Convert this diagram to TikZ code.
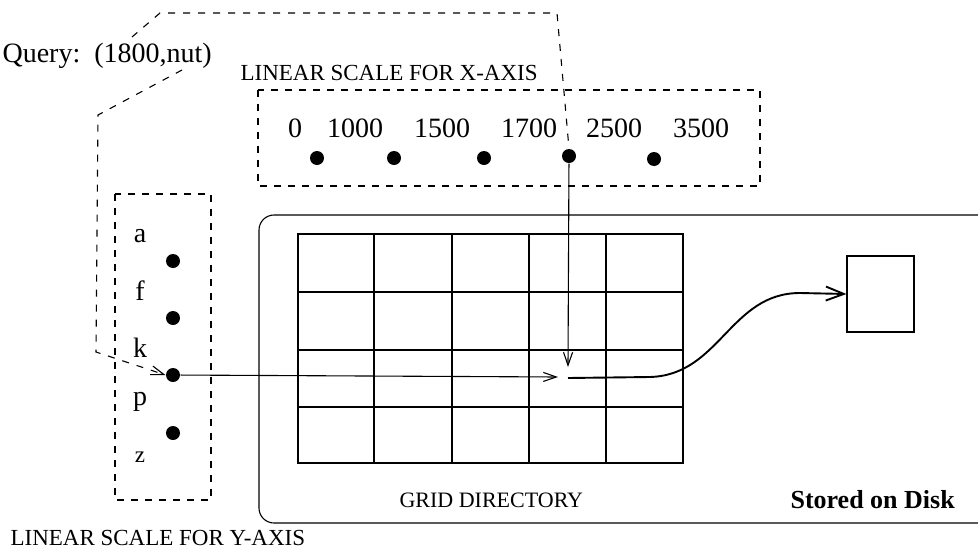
\documentclass[tikz,border=0pt]{standalone}
\usepackage{fontspec}
\setmainfont{Liberation Serif}
\usetikzlibrary{arrows.meta}
\begin{document}
\begin{tikzpicture}[x=1pt,y=-1pt, line width=1.1pt,
  dot/.style={circle,fill,inner sep=0pt,minimum size=14pt},
  lbl/.style={inner sep=0pt,font=\fontsize{28}{30}\selectfont},
  captext/.style={inner sep=0pt,font=\fontsize{23}{26}\selectfont},
  dbox/.style={draw,dash pattern=on 7pt off 7pt},
  dline/.style={dash pattern=on 7pt off 8pt},
  barb/.style={-{Straight Barb[length=13pt,width=9pt]}},
]
\useasboundingbox (0,0) rectangle (978,552);

% texts
\node[lbl,anchor=base west] (query) at (2,62) {Query:\ \ (1800,nut)};
\node[captext,anchor=base west] (xlab) at (240,80) {LINEAR SCALE FOR X-AXIS};
\node[captext,anchor=base west] (ylab) at (10,545) {LINEAR SCALE FOR Y-AXIS};
\node[inner sep=0pt,font=\fontsize{22}{26}\selectfont,anchor=base west] (gridlab) at (399,507) {GRID DIRECTORY};
\node[inner sep=0pt,font=\fontsize{26}{30}\selectfont\bfseries,anchor=base west] (disklab) at (790,508) {Stored on Disk};

% x-axis scale box
\draw[dbox] (258,90) rectangle (760,186);
\foreach \v/\x in {0/295,1000/355,1500/442,1700/529,2500/614,3500/701}
  \node[lbl,anchor=base] (n\v) at (\x,137) {\v};
\node[dot] (xd1) at (317,158) {};
\node[dot] (xd2) at (394,158) {};
\node[dot] (xd3) at (484,158) {};
\node[dot] (xd4) at (569,156) {};
\node[dot] (xd5) at (654,159) {};

% y-axis scale box
\draw[dbox] (115,194) rectangle (211,500);
\node[lbl,anchor=base] (la) at (140,242) {a};
\node[lbl,anchor=base] (lf) at (140,300) {f};
\node[lbl,anchor=base] (lk) at (140,357) {k};
\node[lbl,anchor=base] (lp) at (140,405) {p};
\node[lbl,anchor=base,font=\fontsize{23}{26}\selectfont] (lz) at (140,462) {z};
\node[dot] (yd1) at (173,261) {};
\node[dot] (yd2) at (173,318) {};
\node[dot] (yd3) at (173,375) {};
\node[dot] (yd4) at (173,433) {};

% disk region
\draw[rounded corners=15pt] (979,215) -- (259,215) -- (259,523) -- (979,523);

% grid
\draw (298,234) rectangle (683,463);
\foreach \x in {374,452,529,606} \draw (\x,234) -- (\x,463);
\foreach \y in {292,350,407} \draw (298,\y) -- (683,\y);

% bucket
\node[draw,minimum width=67pt,minimum height=76pt,inner sep=0pt] (disk) at (880.5,294) {};

% coordinates
\coordinate (hitL) at (558,377);
\coordinate (hitT) at (568,367);
\coordinate (cstart) at (568,378);
\coordinate (q1) at (132,37);
\coordinate (q2) at (160,13);
\coordinate (q3) at (557,13);
\coordinate (q4) at (182,70);
\coordinate (q5) at (98,115);
\coordinate (q6) at (96,352);

% query paths
\draw[dline] (q1) -- (q2) -- (q3) -- (xd4.north);
\draw[dline,barb] (q4) -- (q5) -- (q6) -- (yd3.west);

% lookup arrows
\draw[barb] (xd4) -- (hitT);
\draw[barb] (yd3) -- (hitL);

% pointer to bucket
\draw[line width=1.9pt,-{Straight Barb[length=18pt,width=14pt,line width=1.9pt]}]
  (cstart) -- (650,377) .. controls (720,375) and (730,293) .. (800,293) -- (disk.west);
\end{tikzpicture}
\end{document}
